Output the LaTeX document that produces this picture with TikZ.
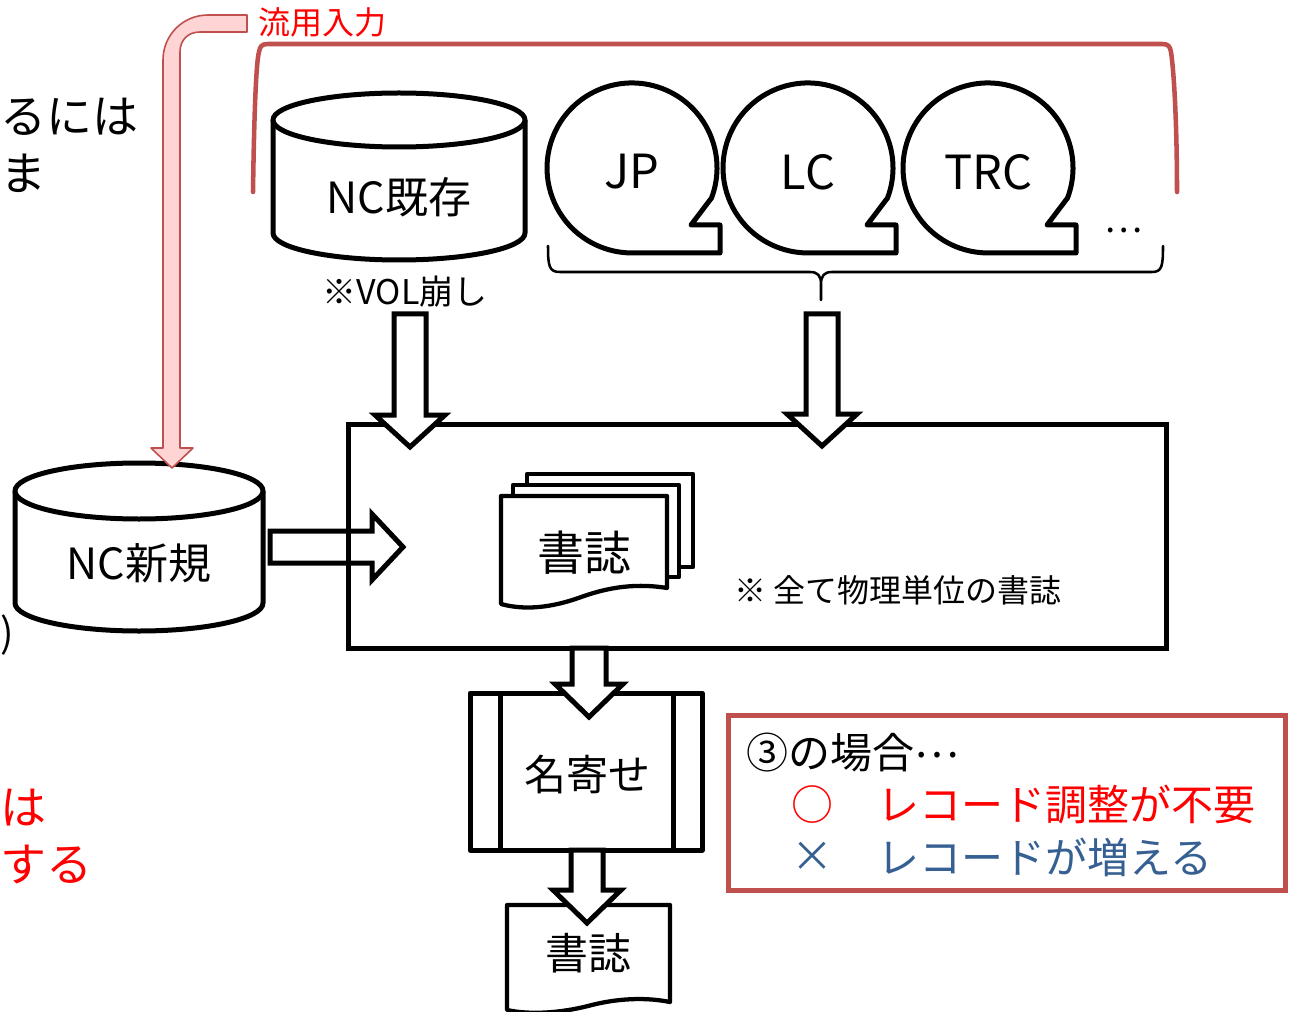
\documentclass[tikz,border=0pt]{standalone}
\usepackage{fontspec}
\setmainfont{Noto Sans CJK JP}
\definecolor{accentred}{RGB}{192,80,77}
\definecolor{pinkfill}{RGB}{255,212,212}
\definecolor{notered}{RGB}{255,0,0}
\definecolor{noteblue}{RGB}{55,96,146}
% font size given in drawing units (1 unit = 0.75pt)
\newcommand\pxfont[1]{\fontsize{\fpeval{#1*0.75}pt}{\fpeval{#1*0.9}pt}\selectfont}
\begin{document}
\begin{tikzpicture}[x=0.75pt,y=-0.75pt,
  shapeline/.style={line width=3.75pt, line join=round, draw=black, fill=white},
  pageline/.style={line width=3.2pt, line join=round, draw=black, fill=white},
  txt/.style={inner sep=0pt, text=black},
  pics/blockarr/.style n args={4}{code={
    \draw[shapeline, line join=miter] (0,-#2) -- ({#1-#4},-#2) -- ({#1-#4},-#3) -- (#1,0)
      -- ({#1-#4},#3) -- ({#1-#4},#2) -- (0,#2) -- cycle;}},
  pics/bubble/.style={code={
    \draw[shapeline] (79.5,30) arc[start angle=-20.7, end angle=270, radius=63.75pt]
      -- (88,85) -- (88,57) -- (59,57) -- cycle;}},
]
\useasboundingbox (0,0) rectangle (1291,1012);

% text running in from the left
\node[txt, anchor=west, font=\pxfont{46}] (lt1) at (0,117) {るには};
\node[txt, anchor=west, font=\pxfont{46}] (lt2) at (0,173) {ま};
\node[txt, anchor=west, font=\pxfont{40}] (lt3) at (0,635) {)};
\node[txt, anchor=west, font=\pxfont{46}, text=notered] (lt4) at (0,808) {は};
\node[txt, anchor=west, font=\pxfont{46}, text=notered] (lt5) at (0,865) {する};

% red bracket over the sources
\draw[accentred, line width=3.4pt, line cap=round]
  (253,192) .. controls (254,120) and (256,62) .. (259,52)
  .. controls (260,46) and (262,44) .. (268,44) -- (1162,44)
  .. controls (1168,44) and (1170,46) .. (1171,52)
  .. controls (1175,80) and (1177,140) .. (1177,192);
\node[txt, anchor=west, font=\pxfont{32}, text=notered] (reuse) at (258,22) {流用入力};

% existing NC database
\path[shapeline] (273,120) -- (273,233) .. controls (273,247.9) and (329.4,260) .. (399,260)
  .. controls (468.6,260) and (525,247.9) .. (525,233) -- (525,120);
\draw[shapeline] (399,120) ellipse [x radius=126, y radius=27];
\node[txt, font=\pxfont{43}] (ncold) at (399,197) {NC既存};
\node[txt, font=\pxfont{34}] (volnote) at (405,292) {※VOL崩し};

% source bubbles
\pic at (632,168) {bubble};
\pic at (808,168) {bubble};
\pic at (988,168) {bubble};
\node[txt, font=\pxfont{47}] (jp) at (632,172) {JP};
\node[txt, font=\pxfont{47}] (lc) at (808,172) {LC};
\node[txt, font=\pxfont{47}] (trc) at (988,172) {TRC};
\node[txt, font=\pxfont{36}] (more) at (1124,230) {⋯};

% brace under the bubbles
\draw[line width=1.9pt, line cap=round, line join=round]
  (548,246) .. controls (548,266) and (549,272) .. (560,272) -- (810,272)
  .. controls (818,272) and (821,276) .. (821,284) -- (821,300)
  (821,284) .. controls (821,276) and (824,272) .. (832,272) -- (1152,272)
  .. controls (1162,272) and (1163,266) .. (1163,246);
\coordinate (bracetip) at (821,300);

% new NC database
\path[shapeline] (15,491) -- (15,603) .. controls (15,618.5) and (70.5,631) .. (139,631)
  .. controls (207.5,631) and (263,618.5) .. (263,603) -- (263,491);
\draw[shapeline] (139,491) ellipse [x radius=124, y radius=28];
\node[txt, font=\pxfont{43}] (ncnew) at (139,563) {NC新規};

% arrow from the new database into the record pool
\pic at (270,547) {blockarr={133}{16}{33}{31}};

% record pool
\draw[line width=3.75pt] (348,424) rectangle (1166,648);
\node[inner sep=0pt] (pool) at (757,536) {};

% stacked records
\draw[pageline] (527,474) rectangle (693,567);
\draw[pageline] (513,485) rectangle (679,577);
\draw[pageline] (501,496) -- (667,496) -- (667,588)
  .. controls (630,582) and (602,590) .. (584,596)
  .. controls (560,605) and (530,612) .. (501,604) -- cycle;
\node[txt, font=\pxfont{47}] (recs) at (584,553) {書誌};
\node[txt, anchor=west, font=\pxfont{32}] (physnote) at (734,590) {※ 全て物理単位の書誌};

% arrows into the pool
\pic[rotate=-90] at (410,314) {blockarr={133}{16}{35}{32}};
\pic[rotate=-90] at (822,314) {blockarr={132}{16}{35}{32}};

% name matching
\draw[shapeline] (470,693) rectangle (702,850);
\draw[line width=3.75pt] (500,693) -- (500,850) (673,693) -- (673,850);
\node[txt, font=\pxfont{42}] (match) at (587,775) {名寄せ};
\pic[rotate=-90] at (589,648) {blockarr={69}{17}{34}{33}};

% output record
\draw[pageline] (507,905) -- (670,905) -- (670,1002)
  .. controls (640,996) and (610,1000) .. (588,1006)
  .. controls (560,1013) and (530,1015) .. (507,1010) -- cycle;
\node[txt, font=\pxfont{43}] (out) at (588,953) {書誌};
\pic[rotate=-90] at (587,850) {blockarr={73}{16}{34}{33}};

% note box
\draw[accentred, line width=3.75pt] (728,715) rectangle (1285,890);
\node[txt, anchor=west, font=\pxfont{42}] (case) at (746,753) {③の場合\raisebox{0.28em}{⋯}};
\node[txt, font=\pxfont{42}, text=notered] (good) at (812,805) {○};
\node[txt, anchor=west, font=\pxfont{42}, text=notered] (goodtxt) at (877,805) {レコード調整が不要};
\node[txt, font=\pxfont{42}, text=noteblue] (bad) at (812,857) {×};
\node[txt, anchor=west, font=\pxfont{42}, text=noteblue] (badtxt) at (877,857) {レコードが増える};

% reuse arrow down to the new database
\draw[accentred, line width=1.2pt, fill=pinkfill, line join=round]
  (247,15) -- (208,15) .. controls (183,15) and (163,35) .. (163,60) -- (163,448)
  -- (151,448) -- (172,468) -- (193,448) -- (180,448) -- (180,52)
  .. controls (180,40) and (188,32) .. (200,32) -- (247,32) -- cycle;
\end{tikzpicture}
\end{document}
